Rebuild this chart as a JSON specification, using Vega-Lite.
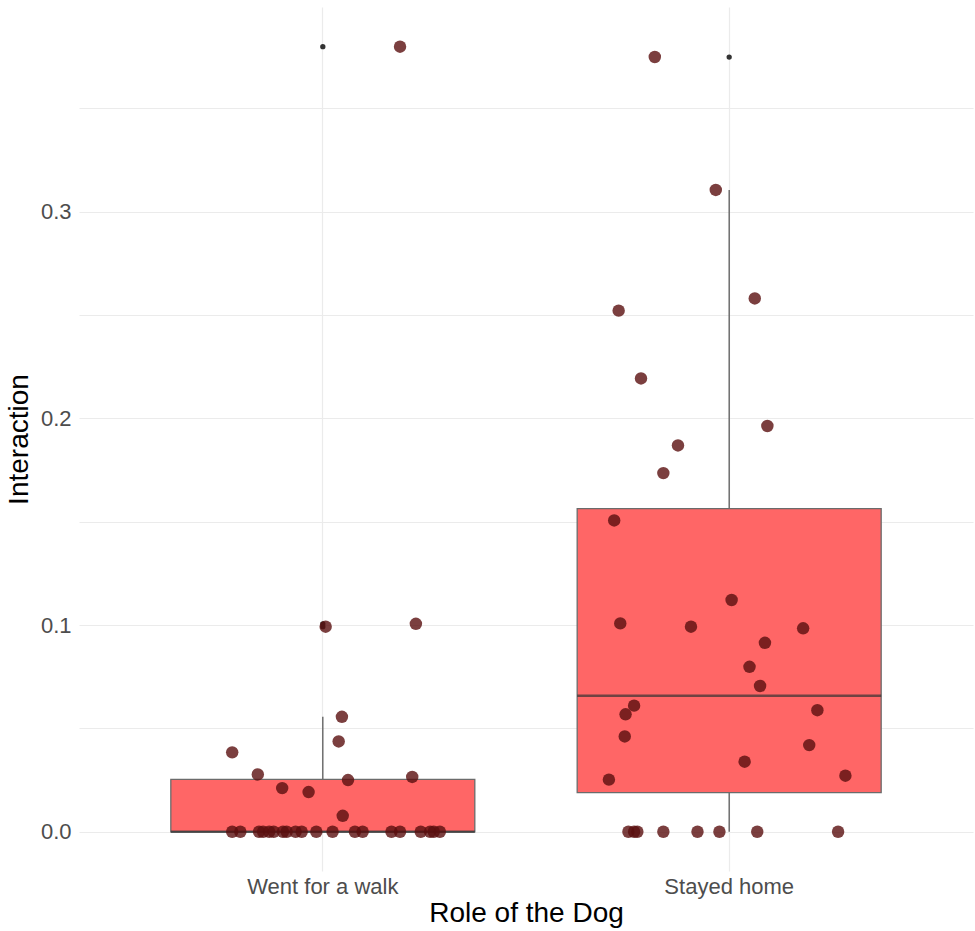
{
  "$schema": "https://vega.github.io/schema/vega-lite/v6.json",
  "width": 894,
  "height": 864,
  "autosize": {"type": "none"},
  "padding": {"left": 79, "top": 7, "right": 2, "bottom": 60},
  "background": "white",
  "config": {
    "view": {"stroke": null},
    "font": "Liberation Sans"
  },
  "data": {
    "values": [
      {"role": "Went for a walk", "interaction": 0.3798, "jitter_x": 1.190},
      {"role": "Went for a walk", "interaction": 0.0992, "jitter_x": 1.007},
      {"role": "Went for a walk", "interaction": 0.1006, "jitter_x": 1.229},
      {"role": "Went for a walk", "interaction": 0.0556, "jitter_x": 1.047},
      {"role": "Went for a walk", "interaction": 0.0437, "jitter_x": 1.039},
      {"role": "Went for a walk", "interaction": 0.0384, "jitter_x": 0.777},
      {"role": "Went for a walk", "interaction": 0.0277, "jitter_x": 0.840},
      {"role": "Went for a walk", "interaction": 0.0211, "jitter_x": 0.900},
      {"role": "Went for a walk", "interaction": 0.0192, "jitter_x": 0.965},
      {"role": "Went for a walk", "interaction": 0.0250, "jitter_x": 1.062},
      {"role": "Went for a walk", "interaction": 0.0077, "jitter_x": 1.049},
      {"role": "Went for a walk", "interaction": 0.0265, "jitter_x": 1.220},
      {"role": "Went for a walk", "interaction": 0, "jitter_x": 0.777},
      {"role": "Went for a walk", "interaction": 0, "jitter_x": 0.797},
      {"role": "Went for a walk", "interaction": 0, "jitter_x": 0.843},
      {"role": "Went for a walk", "interaction": 0, "jitter_x": 0.853},
      {"role": "Went for a walk", "interaction": 0, "jitter_x": 0.868},
      {"role": "Went for a walk", "interaction": 0, "jitter_x": 0.879},
      {"role": "Went for a walk", "interaction": 0, "jitter_x": 0.902},
      {"role": "Went for a walk", "interaction": 0, "jitter_x": 0.911},
      {"role": "Went for a walk", "interaction": 0, "jitter_x": 0.933},
      {"role": "Went for a walk", "interaction": 0, "jitter_x": 0.948},
      {"role": "Went for a walk", "interaction": 0, "jitter_x": 0.984},
      {"role": "Went for a walk", "interaction": 0, "jitter_x": 1.024},
      {"role": "Went for a walk", "interaction": 0, "jitter_x": 1.079},
      {"role": "Went for a walk", "interaction": 0, "jitter_x": 1.098},
      {"role": "Went for a walk", "interaction": 0, "jitter_x": 1.169},
      {"role": "Went for a walk", "interaction": 0, "jitter_x": 1.190},
      {"role": "Went for a walk", "interaction": 0, "jitter_x": 1.241},
      {"role": "Went for a walk", "interaction": 0, "jitter_x": 1.264},
      {"role": "Went for a walk", "interaction": 0, "jitter_x": 1.273},
      {"role": "Went for a walk", "interaction": 0, "jitter_x": 1.288},
      {"role": "Stayed home", "interaction": 0.3748, "jitter_x": 1.817},
      {"role": "Stayed home", "interaction": 0.3105, "jitter_x": 1.967},
      {"role": "Stayed home", "interaction": 0.2580, "jitter_x": 2.063},
      {"role": "Stayed home", "interaction": 0.2521, "jitter_x": 1.728},
      {"role": "Stayed home", "interaction": 0.2193, "jitter_x": 1.783},
      {"role": "Stayed home", "interaction": 0.1963, "jitter_x": 2.094},
      {"role": "Stayed home", "interaction": 0.1869, "jitter_x": 1.874},
      {"role": "Stayed home", "interaction": 0.1735, "jitter_x": 1.838},
      {"role": "Stayed home", "interaction": 0.1506, "jitter_x": 1.717},
      {"role": "Stayed home", "interaction": 0.1121, "jitter_x": 2.006},
      {"role": "Stayed home", "interaction": 0.1008, "jitter_x": 1.732},
      {"role": "Stayed home", "interaction": 0.0992, "jitter_x": 1.906},
      {"role": "Stayed home", "interaction": 0.0984, "jitter_x": 2.182},
      {"role": "Stayed home", "interaction": 0.0914, "jitter_x": 2.088},
      {"role": "Stayed home", "interaction": 0.0798, "jitter_x": 2.050},
      {"role": "Stayed home", "interaction": 0.0705, "jitter_x": 2.076},
      {"role": "Stayed home", "interaction": 0.0610, "jitter_x": 1.766},
      {"role": "Stayed home", "interaction": 0.0568, "jitter_x": 1.745},
      {"role": "Stayed home", "interaction": 0.0588, "jitter_x": 2.217},
      {"role": "Stayed home", "interaction": 0.0461, "jitter_x": 1.743},
      {"role": "Stayed home", "interaction": 0.0419, "jitter_x": 2.197},
      {"role": "Stayed home", "interaction": 0.0339, "jitter_x": 2.038},
      {"role": "Stayed home", "interaction": 0.0271, "jitter_x": 2.286},
      {"role": "Stayed home", "interaction": 0.0252, "jitter_x": 1.704},
      {"role": "Stayed home", "interaction": 0, "jitter_x": 1.752},
      {"role": "Stayed home", "interaction": 0, "jitter_x": 1.766},
      {"role": "Stayed home", "interaction": 0, "jitter_x": 1.774},
      {"role": "Stayed home", "interaction": 0, "jitter_x": 1.838},
      {"role": "Stayed home", "interaction": 0, "jitter_x": 1.922},
      {"role": "Stayed home", "interaction": 0, "jitter_x": 1.976},
      {"role": "Stayed home", "interaction": 0, "jitter_x": 2.069},
      {"role": "Stayed home", "interaction": 0, "jitter_x": 2.268}
    ]
  },
  "layer": [
    {
      "mark": {
        "type": "boxplot",
        "extent": 1.5,
        "size": 304,
        "box": {"fill": "#FF6666", "stroke": "#6b6b6b", "strokeWidth": 1.3},
        "median": {"color": "#333333", "thickness": 2.5},
        "rule": {"color": "#5a5a5a", "strokeWidth": 1.3},
        "outliers": {"color": "#333333", "filled": true, "size": 28, "opacity": 1}
      },
      "encoding": {
        "x": {
          "field": "role",
          "type": "nominal",
          "sort": ["Went for a walk", "Stayed home"],
          "scale": {"paddingInner": 0, "paddingOuter": 0.1},
          "axis": {
            "title": "Role of the Dog",
            "titleFontSize": 28,
            "titleFontWeight": "normal",
            "titleColor": "#000000",
            "titlePadding": 2,
            "labelFontSize": 22,
            "labelColor": "#4D4D4D",
            "labelAngle": 0,
            "labelPadding": 5,
            "ticks": false,
            "domain": false,
            "grid": true,
            "gridColor": "#EBEBEB",
            "gridWidth": 1.2,
            "bandPosition": 0.5
          }
        },
        "y": {
          "field": "interaction",
          "type": "quantitative",
          "scale": {"domain": [-0.019, 0.399], "nice": false, "zero": false},
          "axis": {
            "title": "Interaction",
            "titleFontSize": 28,
            "titleFontWeight": "normal",
            "titleColor": "#000000",
            "titlePadding": 7,
            "values": [0, 0.05, 0.1, 0.15, 0.2, 0.25, 0.3, 0.35],
            "labelExpr": "round(datum.value * 100) % 10 == 0 ? format(datum.value, '.1f') : ''",
            "labelFontSize": 22,
            "labelColor": "#4D4D4D",
            "labelPadding": 8,
            "ticks": false,
            "domain": false,
            "grid": true,
            "gridColor": "#EBEBEB",
            "gridWidth": 1.2
          }
        }
      }
    },
    {
      "mark": {"type": "circle", "size": 155, "color": "#5a0f0f", "opacity": 0.8},
      "encoding": {
        "x": {
          "field": "jitter_x",
          "type": "quantitative",
          "scale": {"domain": [0.4, 2.6], "nice": false, "zero": false},
          "axis": null
        },
        "y": {
          "field": "interaction",
          "type": "quantitative",
          "scale": {"domain": [-0.019, 0.399], "nice": false, "zero": false}
        }
      }
    }
  ],
  "resolve": {"scale": {"x": "independent"}}
}
